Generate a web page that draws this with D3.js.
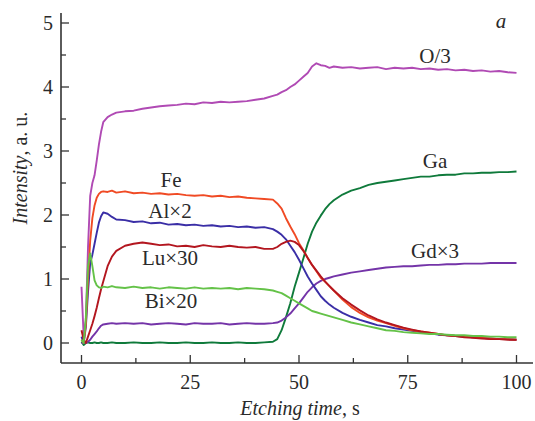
<!DOCTYPE html>
<html><head><meta charset="utf-8">
<script src="https://cdn.jsdelivr.net/npm/d3@7"></script>
<style>body{margin:0;background:#fff}svg{display:block}</style>
</head><body><svg id="c" width="535" height="421"></svg>
<script>
const time = [0,0.5,1,1.5,2,2.5,3,3.5,4,4.5,5,6,7,8,10,12,14,16,18,20,22,24,26,28,30,32,34,36,38,40,42,44,45,46,47,48,49,50,51,52,53,54,55,56,57,58,60,62,64,66,68,70,72,74,76,78,80,82,84,86,88,90,92,94,96,98,100];
const O3 = [0.88,0.1,0.35,1.5,2.3,2.5,2.62,2.85,3.1,3.3,3.45,3.53,3.57,3.6,3.62,3.63,3.66,3.68,3.7,3.71,3.72,3.74,3.73,3.76,3.75,3.77,3.76,3.77,3.78,3.8,3.82,3.86,3.88,3.92,3.95,4.0,4.04,4.1,4.16,4.22,4.32,4.37,4.34,4.33,4.3,4.32,4.3,4.31,4.29,4.3,4.31,4.28,4.3,4.29,4.3,4.28,4.29,4.27,4.28,4.26,4.27,4.25,4.26,4.24,4.25,4.23,4.22];
const Fe = [0.05,0.0,0.3,1.0,1.6,1.95,2.15,2.27,2.33,2.36,2.37,2.36,2.38,2.35,2.37,2.34,2.35,2.33,2.34,2.32,2.33,2.31,2.3,2.31,2.29,2.3,2.28,2.29,2.27,2.26,2.25,2.24,2.18,2.1,1.95,1.82,1.7,1.56,1.45,1.33,1.22,1.12,1.02,0.96,0.89,0.82,0.68,0.56,0.47,0.4,0.35,0.31,0.27,0.23,0.2,0.18,0.16,0.14,0.12,0.11,0.1,0.09,0.08,0.07,0.06,0.06,0.05];
const Al2 = [0.1,0.0,0.25,0.8,1.25,1.38,1.55,1.72,1.88,1.98,2.04,2.02,1.97,1.93,1.92,1.89,1.9,1.87,1.88,1.85,1.86,1.84,1.85,1.83,1.84,1.82,1.83,1.81,1.82,1.8,1.81,1.78,1.74,1.69,1.62,1.52,1.42,1.3,1.17,1.04,0.93,0.83,0.73,0.66,0.6,0.55,0.47,0.41,0.36,0.32,0.28,0.26,0.23,0.21,0.19,0.17,0.15,0.13,0.12,0.11,0.1,0.09,0.08,0.07,0.06,0.06,0.05];
const Lu30 = [0.2,0.05,0.0,0.1,0.2,0.3,0.42,0.55,0.7,0.84,0.96,1.2,1.35,1.44,1.52,1.55,1.57,1.55,1.53,1.54,1.51,1.52,1.5,1.53,1.51,1.5,1.52,1.5,1.49,1.5,1.47,1.47,1.5,1.55,1.58,1.6,1.58,1.53,1.44,1.33,1.22,1.13,1.04,0.96,0.89,0.82,0.7,0.6,0.51,0.43,0.37,0.32,0.28,0.24,0.21,0.18,0.16,0.14,0.12,0.11,0.09,0.08,0.07,0.06,0.06,0.05,0.05];
const Bi20 = [0.05,0.0,0.4,1.2,1.4,1.2,0.98,0.9,0.87,0.86,0.88,0.87,0.89,0.87,0.86,0.88,0.86,0.87,0.85,0.87,0.86,0.85,0.87,0.85,0.86,0.85,0.86,0.84,0.86,0.85,0.84,0.82,0.8,0.78,0.74,0.7,0.66,0.62,0.58,0.54,0.5,0.48,0.46,0.44,0.42,0.4,0.36,0.32,0.29,0.26,0.23,0.2,0.19,0.17,0.16,0.15,0.14,0.14,0.13,0.12,0.12,0.11,0.11,0.1,0.1,0.09,0.09];
const Ga = [0.02,-0.03,0.0,0.01,0.0,0.0,0.01,0.0,0.0,0.01,0.0,0.0,0.01,0.0,0.0,0.01,0.0,0.0,0.01,0.0,0.0,0.01,0.0,0.0,0.01,0.0,0.0,0.01,0.0,0.0,0.01,0.02,0.06,0.2,0.4,0.62,0.88,1.1,1.32,1.55,1.74,1.88,1.99,2.09,2.17,2.23,2.32,2.38,2.42,2.47,2.5,2.52,2.54,2.56,2.58,2.6,2.6,2.62,2.63,2.63,2.65,2.65,2.66,2.66,2.67,2.67,2.68];
const Gd3 = [0.0,0.0,0.0,0.02,0.05,0.1,0.14,0.18,0.23,0.27,0.29,0.3,0.31,0.3,0.31,0.3,0.31,0.29,0.3,0.31,0.3,0.29,0.31,0.3,0.3,0.31,0.29,0.3,0.31,0.3,0.3,0.31,0.32,0.35,0.4,0.46,0.54,0.62,0.71,0.8,0.87,0.93,0.97,1.0,1.02,1.04,1.07,1.1,1.12,1.14,1.16,1.18,1.19,1.2,1.2,1.21,1.22,1.22,1.23,1.23,1.24,1.24,1.24,1.25,1.25,1.25,1.25];
const seriesNames = ["O/3","Ga","Gd×3","Al×2","Fe","Lu×30","Bi×20"];
const seriesValues = [O3,Ga,Gd3,Al2,Fe,Lu30,Bi20];
const seriesColors = ["#b04ab4","#0f7a3b","#7434a8","#3a2ea6","#f04a24","#b3161f","#64c248"];
const xTicks = [0,25,50,75,100];
const yTicks = [0,1,2,3,4,5];

const svg = d3.select("#c");
const x = d3.scaleLinear().domain([0,100]).range([81.5,516.5]);
const y = d3.scaleLinear().domain([0,5]).range([343,23]);
const axisX = 61, axisY = 363;
const FONT = "'Liberation Serif', serif";
const TXT = "#2a2a2a";

const line = d3.line().x((d,i)=>x(time[i])).y(d=>y(d)).curve(d3.curveLinear);
seriesValues.forEach((vals,k)=>{
  svg.append("path").attr("d",line(vals)).attr("fill","none")
    .attr("stroke",seriesColors[k]).attr("stroke-width",1.9).attr("stroke-linejoin","round");
});

const g = svg.append("g");
function txt(sel){ return sel.style("font-family",FONT).style("fill",TXT); }
g.append("line").attr("x1",axisX).attr("x2",axisX).attr("y1",13).attr("y2",axisY).attr("stroke","#333").attr("stroke-width",1.6);
g.append("line").attr("x1",axisX).attr("x2",533).attr("y1",axisY).attr("y2",axisY).attr("stroke","#333").attr("stroke-width",1.6);
d3.range(0,5.01,0.5).forEach(v=>{
  const major = Math.abs(v-Math.round(v))<1e-6;
  g.append("line").attr("x1",axisX).attr("x2",axisX+(major?8:5)).attr("y1",y(v)).attr("y2",y(v)).attr("stroke","#333").attr("stroke-width",1.3);
});
d3.range(0,100.01,12.5).forEach(v=>{
  const major = Math.abs(v/25-Math.round(v/25))<1e-6;
  g.append("line").attr("x1",x(v)).attr("x2",x(v)).attr("y1",axisY).attr("y2",axisY-(major?8:5)).attr("stroke","#333").attr("stroke-width",1.3);
});
yTicks.forEach(v=>txt(g.append("text")).attr("x",53).attr("y",y(v)+7).attr("text-anchor","end").style("font-size","20px").text(v));
xTicks.forEach(v=>txt(g.append("text")).attr("x",x(v)).attr("y",389).attr("text-anchor","middle").style("font-size","20px").text(v));

const xt = txt(g.append("text")).attr("x",300).attr("y",415).attr("text-anchor","middle").style("font-size","20px");
xt.append("tspan").style("font-style","italic").text("Etching time");
xt.append("tspan").text(", s");
const yt = txt(g.append("text")).attr("transform","translate(27,168) rotate(-90)").attr("text-anchor","middle").style("font-size","20px");
yt.append("tspan").style("font-style","italic").text("Intensity");
yt.append("tspan").text(", a. u.");

const labels = [["O/3",435,63],["Ga",435,168],["Fe",171,187],["Al×2",170,218],["Lu×30",170,265],["Bi×20",171,308],["Gd×3",435,258]];
labels.forEach(l=>txt(g.append("text")).attr("x",l[1]).attr("y",l[2]).attr("text-anchor","middle").style("font-size","21px").text(l[0]));
txt(g.append("text")).attr("x",501).attr("y",28).attr("text-anchor","middle").style("font-size","21px").style("font-style","italic").text("a");
</script></body></html>
